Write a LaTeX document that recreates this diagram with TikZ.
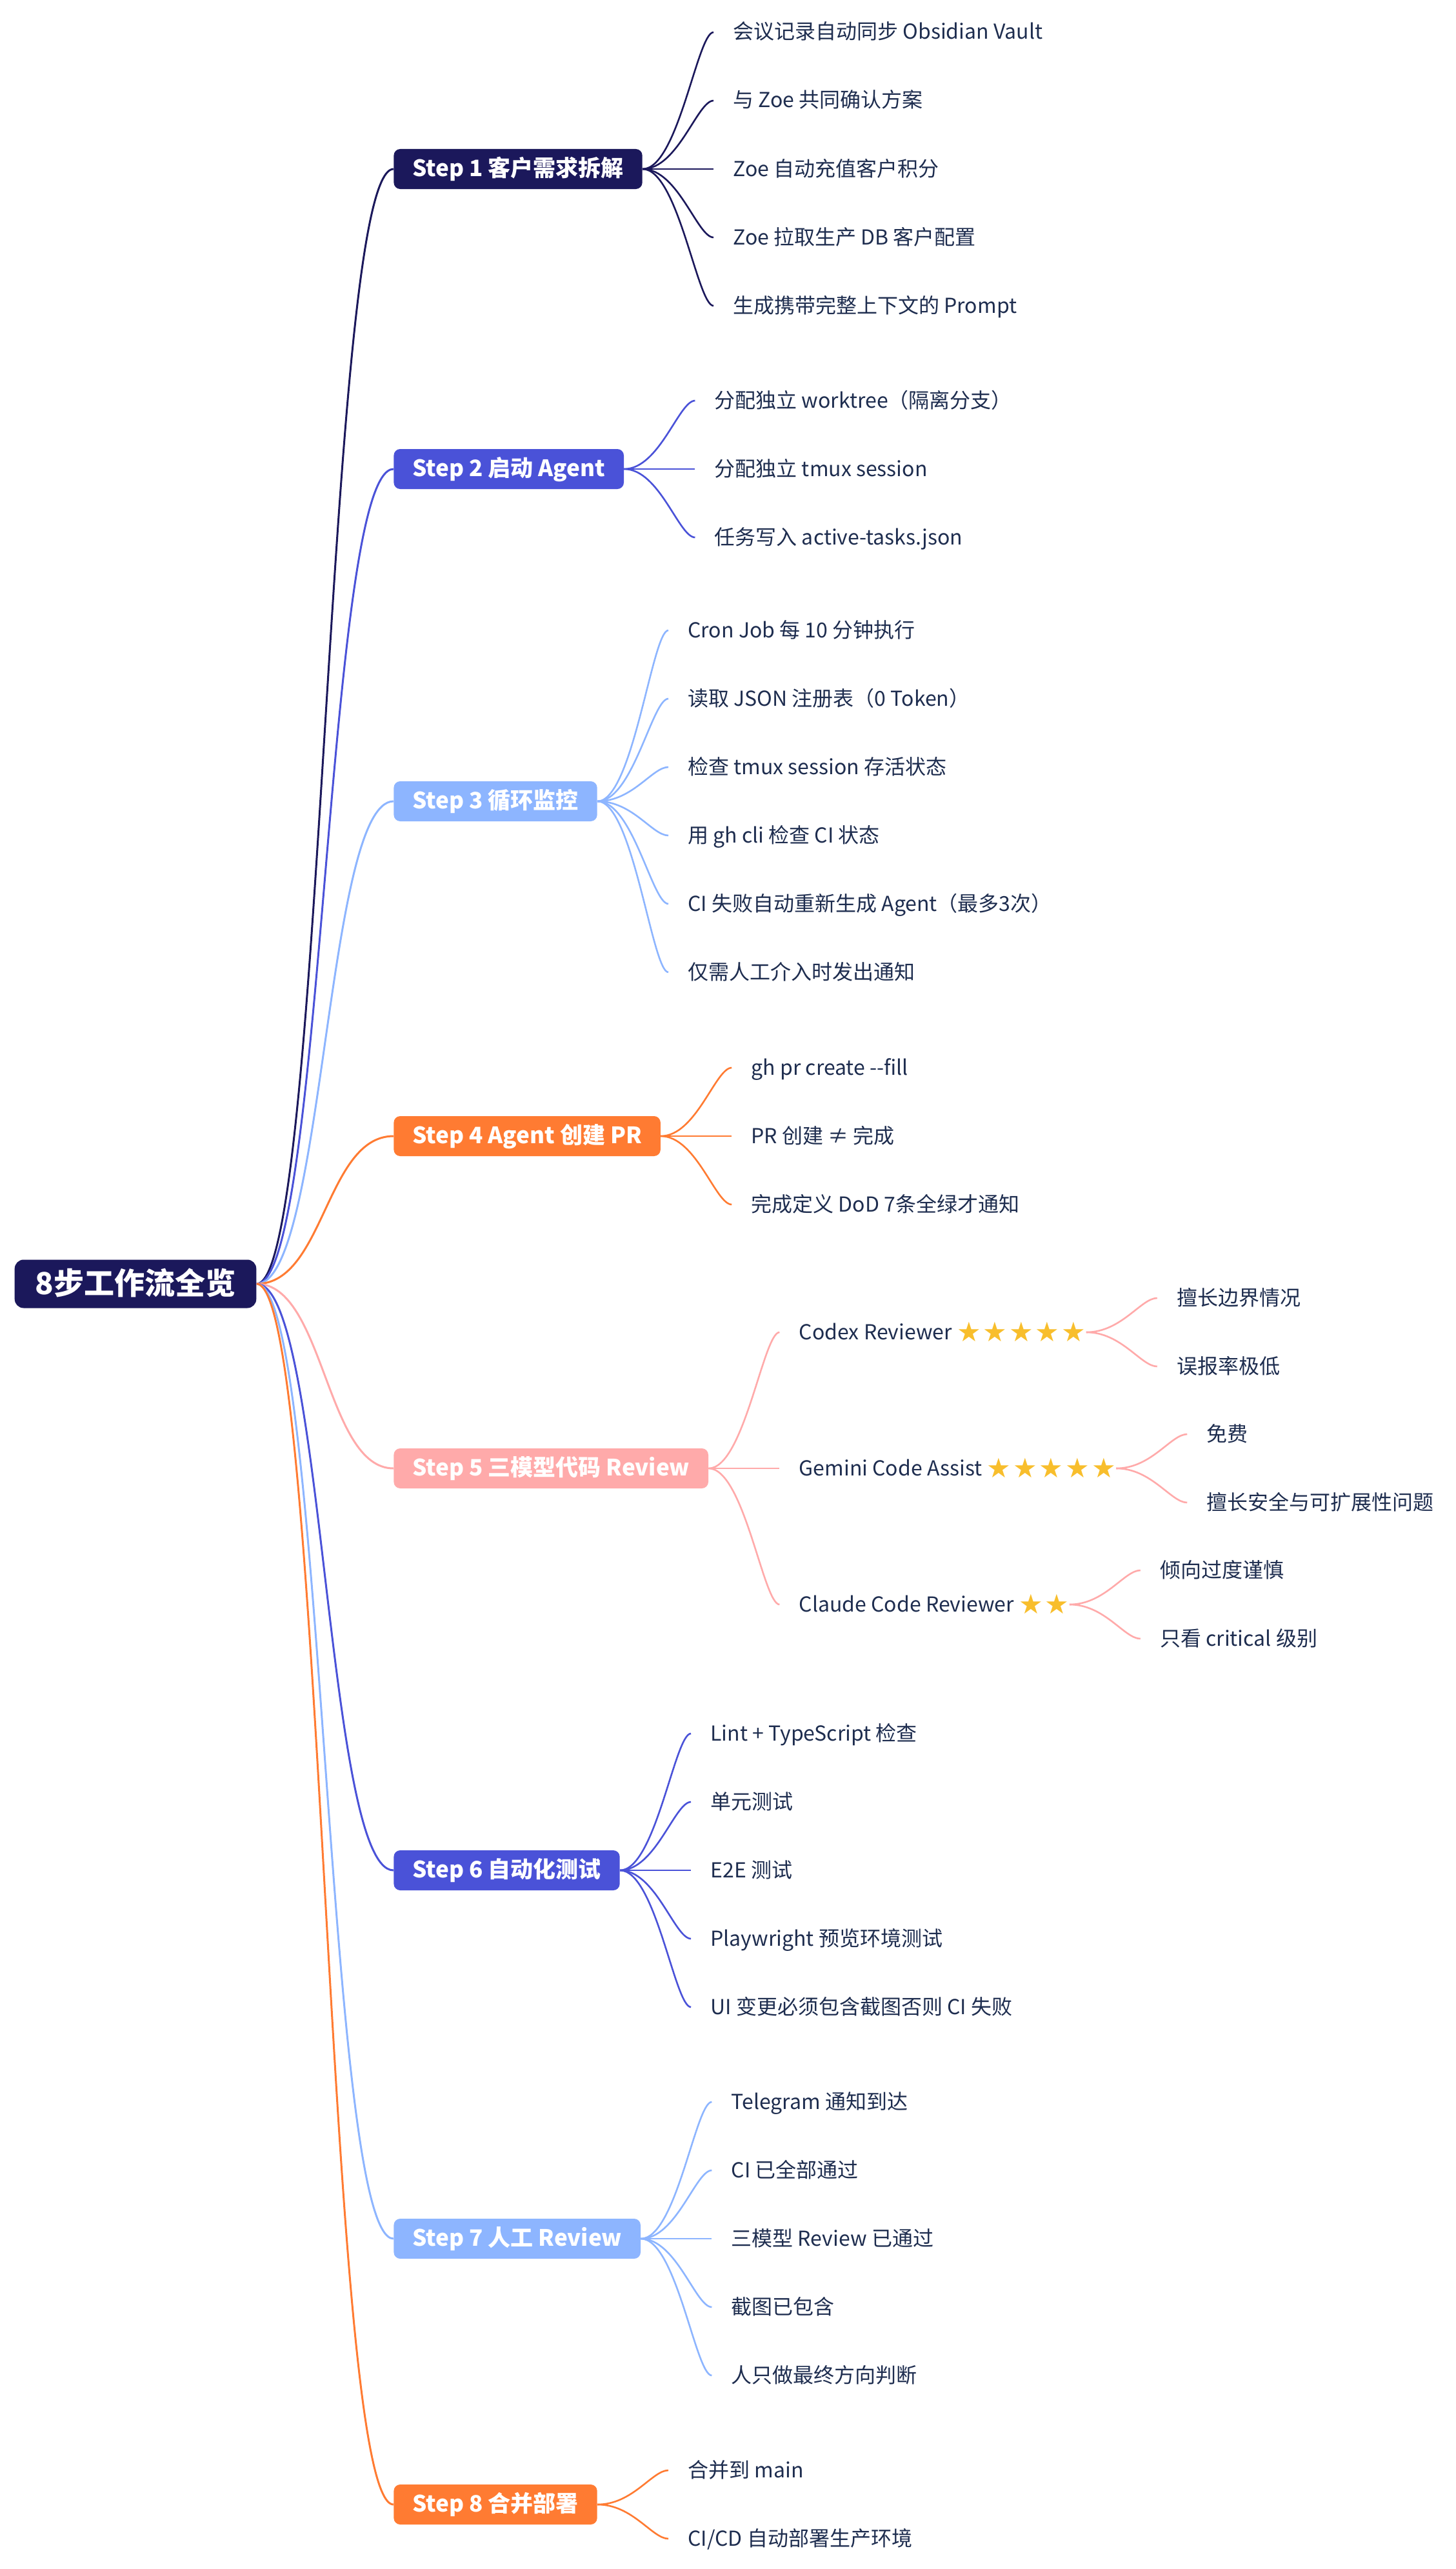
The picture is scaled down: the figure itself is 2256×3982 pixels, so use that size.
\documentclass[tikz,border=0pt]{standalone}
\usepackage{fontspec}
\setmainfont{Noto Sans CJK SC}
\newfontfamily\starfont{DejaVu Sans}
\usepackage{tikz}
\usetikzlibrary{positioning}
\definecolor{MapNavy}{HTML}{1B185B}
\definecolor{MapIndigo}{HTML}{4A52D8}
\definecolor{MapSky}{HTML}{8DB5FF}
\definecolor{MapOrange}{HTML}{FF7B32}
\definecolor{MapPink}{HTML}{FFAAAA}
\definecolor{MapInk}{HTML}{1E2D4F}
\definecolor{MapGold}{HTML}{F8BE2C}
% a row of gold stars, slightly spaced
\newcommand{\fivestars}{\raisebox{-1.5pt}{\starfont\fontsize{21}{21}\selectfont\color{MapGold}%
  ★\kern1.5pt★\kern1.5pt★\kern1.5pt★\kern1.5pt★}}
\newcommand{\twostars}{\raisebox{-1.5pt}{\starfont\fontsize{21}{21}\selectfont\color{MapGold}%
  ★\kern1.5pt★}}

\begin{document}
\begin{tikzpicture}[x=0.5pt,y=-0.5pt]
  \tikzstyle{rootbox}=[fill=MapNavy,text=white,rounded corners=7pt,
    inner xsep=16pt,minimum height=37.5pt,text height=18pt,text depth=2pt,
    font=\fontsize{23.5}{28}\selectfont\bfseries]
  \tikzstyle{stepbox}=[text=white,rounded corners=5pt,inner xsep=14.5pt,
    minimum height=31pt,text height=13pt,text depth=1.5pt,
    font=\fontsize{17.5}{21}\selectfont\bfseries]
  \tikzstyle{leaf}=[text=MapInk,inner xsep=0pt,text height=12pt,text depth=1pt,
    font=\fontsize{16}{19}\selectfont]
  \tikzstyle{limb}=[line width=1.5pt,out=0,in=180,distance=52.5pt]
  \tikzstyle{twig}=[line width=1.3pt,out=0,in=180,distance=27.5pt,shorten >=15pt]
  \useasboundingbox (0,0) rectangle (2256,3982);

  \node[rootbox] (root) at (210,1990) {8步工作流全览};

  \node[stepbox,fill=MapNavy,anchor=west] (s1) at (610,262) {Step 1 客户需求拆解};
  \node[stepbox,fill=MapIndigo,anchor=west] (s2) at (610,727) {Step 2 启动 Agent};
  \node[stepbox,fill=MapSky,anchor=west] (s3) at (610,1242) {Step 3 循环监控};
  \node[stepbox,fill=MapOrange,anchor=west] (s4) at (610,1761) {Step 4 Agent 创建 PR};
  \node[stepbox,fill=MapPink,anchor=west] (s5) at (610,2276) {Step 5 三模型代码 Review};
  \node[stepbox,fill=MapIndigo,anchor=west] (s6) at (610,2899) {Step 6 自动化测试};
  \node[stepbox,fill=MapSky,anchor=west] (s7) at (610,3470) {Step 7 人工 Review};
  \node[stepbox,fill=MapOrange,anchor=west] (s8) at (610,3882) {Step 8 合并部署};

  \draw[limb,MapNavy] (root.east) to (s1.west);
  \draw[limb,MapIndigo] (root.east) to (s2.west);
  \draw[limb,MapSky] (root.east) to (s3.west);
  \draw[limb,MapOrange] (root.east) to (s4.west);
  \draw[limb,MapPink] (root.east) to (s5.west);
  \draw[limb,MapIndigo] (root.east) to (s6.west);
  \draw[limb,MapSky] (root.east) to (s7.west);
  \draw[limb,MapOrange] (root.east) to (s8.west);

  % step 1
  \node[leaf,right=70pt of s1,yshift=106pt] (s1a) {会议记录自动同步 Obsidian Vault};
  \node[leaf,right=70pt of s1,yshift=53pt] (s1b) {与 Zoe 共同确认方案};
  \node[leaf,right=70pt of s1] (s1c) {Zoe 自动充值客户积分};
  \node[leaf,right=70pt of s1,yshift=-53pt] (s1d) {Zoe 拉取生产 DB 客户配置};
  \node[leaf,right=70pt of s1,yshift=-106pt] (s1e) {生成携带完整上下文的 Prompt};
  \draw[twig,MapNavy] (s1.east) to (s1a.west);
  \draw[twig,MapNavy] (s1.east) to (s1b.west);
  \draw[twig,MapNavy] (s1.east) to (s1c.west);
  \draw[twig,MapNavy] (s1.east) to (s1d.west);
  \draw[twig,MapNavy] (s1.east) to (s1e.west);

  % step 2
  \node[leaf,right=70pt of s2,yshift=53pt] (s2a) {分配独立 worktree（隔离分支）};
  \node[leaf,right=70pt of s2] (s2b) {分配独立 tmux session};
  \node[leaf,right=70pt of s2,yshift=-53pt] (s2c) {任务写入 active-tasks.json};
  \draw[twig,MapIndigo] (s2.east) to (s2a.west);
  \draw[twig,MapIndigo] (s2.east) to (s2b.west);
  \draw[twig,MapIndigo] (s2.east) to (s2c.west);

  % step 3
  \node[leaf,right=70pt of s3,yshift=132.5pt] (s3a) {Cron Job 每 10 分钟执行};
  \node[leaf,right=70pt of s3,yshift=79.5pt] (s3b) {读取 JSON 注册表（0 Token）};
  \node[leaf,right=70pt of s3,yshift=26.5pt] (s3c) {检查 tmux session 存活状态};
  \node[leaf,right=70pt of s3,yshift=-26.5pt] (s3d) {用 gh cli 检查 CI 状态};
  \node[leaf,right=70pt of s3,yshift=-79.5pt] (s3e) {CI 失败自动重新生成 Agent（最多3次）};
  \node[leaf,right=70pt of s3,yshift=-132.5pt] (s3f) {仅需人工介入时发出通知};
  \draw[twig,MapSky] (s3.east) to (s3a.west);
  \draw[twig,MapSky] (s3.east) to (s3b.west);
  \draw[twig,MapSky] (s3.east) to (s3c.west);
  \draw[twig,MapSky] (s3.east) to (s3d.west);
  \draw[twig,MapSky] (s3.east) to (s3e.west);
  \draw[twig,MapSky] (s3.east) to (s3f.west);

  % step 4
  \node[leaf,right=70pt of s4,yshift=53pt] (s4a) {gh pr create -{}-fill};
  \node[leaf,right=70pt of s4] (s4b) {PR 创建 ≠ 完成};
  \node[leaf,right=70pt of s4,yshift=-53pt] (s4c) {完成定义 DoD 7条全绿才通知};
  \draw[twig,MapOrange] (s4.east) to (s4a.west);
  \draw[twig,MapOrange] (s4.east) to (s4b.west);
  \draw[twig,MapOrange] (s4.east) to (s4c.west);

  % step 5, three reviewers
  \node[leaf,right=70pt of s5,yshift=105.5pt] (codex) {Codex Reviewer \fivestars};
  \node[leaf,right=70pt of s5] (gemini) {Gemini Code Assist \fivestars};
  \node[leaf,right=70pt of s5,yshift=-105.5pt] (claude) {Claude Code Reviewer \twostars};
  \draw[twig,MapPink] (s5.east) to (codex.west);
  \draw[twig,MapPink] (s5.east) to (gemini.west);
  \draw[twig,MapPink] (s5.east) to (claude.west);
  \node[leaf,right=70pt of codex,yshift=26.5pt] (codexa) {擅长边界情况};
  \node[leaf,right=70pt of codex,yshift=-26.5pt] (codexb) {误报率极低};
  \node[leaf,right=70pt of gemini,yshift=26.5pt] (geminia) {免费};
  \node[leaf,right=70pt of gemini,yshift=-26.5pt] (geminib) {擅长安全与可扩展性问题};
  \node[leaf,right=70pt of claude,yshift=26.5pt] (claudea) {倾向过度谨慎};
  \node[leaf,right=70pt of claude,yshift=-26.5pt] (claudeb) {只看 critical 级别};
  \draw[twig,MapPink] (codex.east) to (codexa.west);
  \draw[twig,MapPink] (codex.east) to (codexb.west);
  \draw[twig,MapPink] (gemini.east) to (geminia.west);
  \draw[twig,MapPink] (gemini.east) to (geminib.west);
  \draw[twig,MapPink] (claude.east) to (claudea.west);
  \draw[twig,MapPink] (claude.east) to (claudeb.west);

  % step 6
  \node[leaf,right=70pt of s6,yshift=106pt] (s6a) {Lint + TypeScript 检查};
  \node[leaf,right=70pt of s6,yshift=53pt] (s6b) {单元测试};
  \node[leaf,right=70pt of s6] (s6c) {E2E 测试};
  \node[leaf,right=70pt of s6,yshift=-53pt] (s6d) {Playwright 预览环境测试};
  \node[leaf,right=70pt of s6,yshift=-106pt] (s6e) {UI 变更必须包含截图否则 CI 失败};
  \draw[twig,MapIndigo] (s6.east) to (s6a.west);
  \draw[twig,MapIndigo] (s6.east) to (s6b.west);
  \draw[twig,MapIndigo] (s6.east) to (s6c.west);
  \draw[twig,MapIndigo] (s6.east) to (s6d.west);
  \draw[twig,MapIndigo] (s6.east) to (s6e.west);

  % step 7
  \node[leaf,right=70pt of s7,yshift=106pt] (s7a) {Telegram 通知到达};
  \node[leaf,right=70pt of s7,yshift=53pt] (s7b) {CI 已全部通过};
  \node[leaf,right=70pt of s7] (s7c) {三模型 Review 已通过};
  \node[leaf,right=70pt of s7,yshift=-53pt] (s7d) {截图已包含};
  \node[leaf,right=70pt of s7,yshift=-106pt] (s7e) {人只做最终方向判断};
  \draw[twig,MapSky] (s7.east) to (s7a.west);
  \draw[twig,MapSky] (s7.east) to (s7b.west);
  \draw[twig,MapSky] (s7.east) to (s7c.west);
  \draw[twig,MapSky] (s7.east) to (s7d.west);
  \draw[twig,MapSky] (s7.east) to (s7e.west);

  % step 8
  \node[leaf,right=70pt of s8,yshift=26.5pt] (s8a) {合并到 main};
  \node[leaf,right=70pt of s8,yshift=-26.5pt] (s8b) {CI/CD 自动部署生产环境};
  \draw[twig,MapOrange] (s8.east) to (s8a.west);
  \draw[twig,MapOrange] (s8.east) to (s8b.west);
\end{tikzpicture}
\end{document}
